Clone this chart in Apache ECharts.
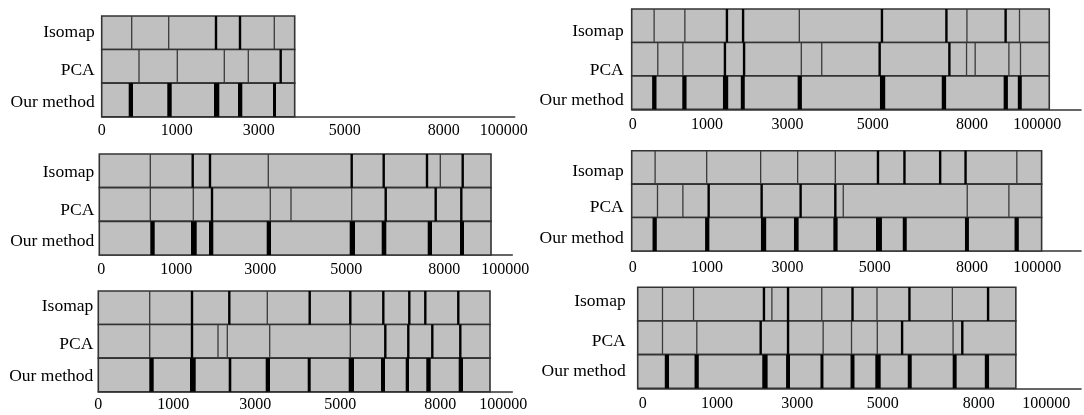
<!DOCTYPE html>
<html><head><meta charset="utf-8">
<script src="https://cdn.jsdelivr.net/npm/echarts@6/dist/echarts.min.js"></script>
<style>html,body{margin:0;padding:0;background:#fff}#c{width:1084px;height:415px}</style>
</head><body><div id="c"></div>
<script>
// ---------------- DATA ----------------
const rowNames = ['Isomap', 'PCA', 'Our method'];
const tickLabels = ['0', '1000', '3000', '5000', '8000', '100000'];

// Panel A (top-left)
const aLength = 193;
const aTicks = [0, 75, 157, 243, 342, 402];
const aIsoThin = [30, 67, 172.6];
const aIsoBold = [114.3, 138.3];
const aPcaThin = [37.3, 75.6, 122.6, 146.6];
const aPcaBold = [179];
const aOur = [[27, 31.3], [65.6, 70], [112.3, 117.6], [136.3, 140.6], [171.3, 174.3]];

// Panel B (top-right)
const bLength = 421;
const bTicks = [1, 76, 157, 243, 343, 409];
const bIsoThin = [22.6, 53.6, 169, 338, 391];
const bIsoBold = [96, 112.3, 252.3, 317.3, 377];
const bPcaThin = [26.3, 51.6, 171, 191.6, 337.6, 346.3, 380.3, 392];
const bPcaBold = [94, 113.3, 250, 320.3];
const bOur = [[20.6, 25], [51, 55.3], [92, 97.3], [110, 114], [167.3, 171.6], [250.3, 255.6], [312.6, 317], [375, 379.3], [389.3, 393.3]];

// Panel C (middle-left)
const cLength = 391.7;
const cTicks = [2, 77, 161, 247, 345, 406];
const cIsoThin = [51, 169, 341];
const cIsoBold = [93.4, 110.7, 252.4, 284.4, 327.7, 363.4];
const cPcaThin = [51, 94, 171, 191.7, 252.4];
const cPcaBold = [112.7, 286.4, 336.4, 362];
const cOur = [[51, 55.4], [91.7, 97.4], [109.7, 114], [167.4, 171.7], [250.4, 255.7], [282.4, 287], [328.4, 332.7], [360.7, 364.7]];

// Panel D (middle-right)
const dLength = 413.3;
const dTicks = [1, 76, 157, 245, 343, 409];
const dIsoThin = [23.6, 75.6, 130, 167.3, 205.3, 388.3];
const dIsoBold = [248.3, 275, 311, 336.6];
const dPcaThin = [26, 51.6, 213.3, 338.3, 380.3];
const dPcaBold = [77.6, 131, 170.3, 205.3];
const dOur = [[21, 25.3], [74, 78.3], [130.3, 135.6], [163.6, 168.3], [203.3, 207.6], [246.3, 252.3], [273.3, 277.3], [336, 340], [386, 390.3]];

// Panel E (bottom-left)
const eLength = 391.7;
const eTicks = [0, 75, 157, 242, 342, 405];
const eIsoThin = [51.4, 169];
const eIsoBold = [93.7, 131, 211.4, 252, 285, 311, 327, 360];
const ePcaThin = [51.4, 119.7, 129, 171.4, 252];
const ePcaBold = [93.7, 287, 310, 334, 362];
const eOur = [[51, 55.4], [91.7, 97.4], [130.4, 133], [167.4, 171.7], [209.4, 212.4], [250.4, 255.7], [282.7, 286.7], [307.4, 310.7], [328, 332.4], [360.4, 364.7]];

// Panel F (bottom-right)
const fLength = 381.3;
const fTicks = [5, 80, 161, 247, 344, 412];
const fIsoThin = [25, 56.3, 135.3, 185.6, 241.3, 317.3];
const fIsoBold = [127.3, 151.6, 216.6, 274, 353.3];
const fPcaThin = [25, 59.6, 187, 215.6, 241.6, 318];
const fPcaBold = [124, 151.6, 266.6, 327.3];
const fOur = [[27.3, 31.6], [57.3, 61.6], [125.6, 131], [149.6, 153.6], [184.3, 187.3], [214.6, 218.6], [239.6, 245], [272.3, 276.3], [317.6, 321.6], [350, 354.3]];

// ---------------- LAYOUT ----------------
const panels = [
  {len: aLength, ticks: aTicks, isoT: aIsoThin, isoB: aIsoBold, pcaT: aPcaThin, pcaB: aPcaBold, our: aOur,
   left: 101.7, top: 16, height: 100.7, axisLen: 413, tickMargin: 6, yMargin: 7, yShift: [0, 4.5, 2]},
  {len: bLength, ticks: bTicks, isoT: bIsoThin, isoB: bIsoBold, pcaT: bPcaThin, pcaB: bPcaBold, our: bOur,
   left: 631.7, top: 9, height: 100.3, axisLen: 453, tickMargin: 7, yMargin: 8, yShift: [6, 11, 8]},
  {len: cLength, ticks: cTicks, isoT: cIsoThin, isoB: cIsoBold, pcaT: cPcaThin, pcaB: cPcaBold, our: cOur,
   left: 99.3, top: 154, height: 101, axisLen: 413, tickMargin: 7, yMargin: 5, yShift: [1.7, 6, 3]},
  {len: dLength, ticks: dTicks, isoT: dIsoThin, isoB: dIsoBold, pcaT: dPcaThin, pcaB: dPcaBold, our: dOur,
   left: 631.7, top: 150.7, height: 100.3, axisLen: 453, tickMargin: 9, yMargin: 8, yShift: [4, 7, 4.5]},
  {len: eLength, ticks: eTicks, isoT: eIsoThin, isoB: eIsoBold, pcaT: ePcaThin, pcaB: ePcaBold, our: eOur,
   left: 98.3, top: 291, height: 100.7, axisLen: 414, tickMargin: 5, yMargin: 5, yShift: [-1.5, 3.5, 1.5]},
  {len: fLength, ticks: fTicks, isoT: fIsoThin, isoB: fIsoBold, pcaT: fPcaThin, pcaB: fPcaBold, our: fOur,
   left: 637.7, top: 287.3, height: 101, axisLen: 447, tickMargin: 7, yMargin: 12, yShift: [-2.3, 3.5, 0]}
];

const SERIF = "'Liberation Serif', 'Times New Roman', serif";
const Y_FONT = 17.5;

function renderItem(params, api) {
  const a = api.value(0), b = api.value(1), r = api.value(2), k = api.value(3);
  const h = api.size([0, 1])[1];
  const p1 = api.coord([a, r]);
  const p2 = api.coord([b, r]);
  const y0 = p1[1] - h / 2;
  if (k === 0) {
    return {type: 'rect', shape: {x: p1[0], y: y0, width: p2[0] - p1[0], height: h},
      style: {fill: '#c0c0c0', stroke: '#333', lineWidth: 1.6}};
  }
  if (k === 1 || k === 2) {
    return {type: 'line', shape: {x1: p1[0], y1: y0, x2: p1[0], y2: y0 + h},
      style: {stroke: k === 2 ? '#000' : '#3a3a3a', lineWidth: k === 2 ? 2.4 : 1.3}};
  }
  return {type: 'rect', shape: {x: p1[0], y: y0, width: p2[0] - p1[0], height: h},
    style: {fill: '#000'}};
}

const grid = [], xAxis = [], yAxis = [], series = [];
panels.forEach((p, i) => {
  grid.push({left: p.left, top: p.top, width: p.axisLen, height: p.height});
  const ticks = p.ticks;
  xAxis.push({
    type: 'value', gridIndex: i, min: 0, max: p.axisLen, interval: 1,
    axisLine: {show: true, lineStyle: {color: '#333', width: 1.6}},
    axisTick: {show: false}, splitLine: {show: false},
    axisLabel: {
      show: true, margin: p.tickMargin, color: '#000', fontFamily: SERIF, fontSize: 16,
      showMinLabel: true, showMaxLabel: true,
      formatter: v => { const j = ticks.indexOf(Math.round(v)); return j >= 0 && Math.abs(v - ticks[j]) < 1e-6 ? tickLabels[j] : ''; }
    }
  });
  const rich = {};
  p.yShift.forEach((s, j) => {
    rich['r' + j] = {fontFamily: SERIF, fontSize: Y_FONT, color: '#000',
      padding: s >= 0 ? [2 * s, 0, 0, 0] : [0, 0, -2 * s, 0]};
  });
  yAxis.push({
    type: 'category', gridIndex: i, data: rowNames, inverse: true,
    axisLine: {show: false}, axisTick: {show: false}, splitLine: {show: false},
    axisLabel: {margin: p.yMargin, color: '#000', fontFamily: SERIF, fontSize: Y_FONT,
      formatter: (v, idx) => '{r' + rowNames.indexOf(v) + '|' + v + '}', rich: rich}
  });
  const data = [];
  for (let r = 0; r < 3; r++) data.push([0, p.len, r, 0]);
  p.isoT.forEach(v => data.push([v, v, 0, 1]));
  p.isoB.forEach(v => data.push([v, v, 0, 2]));
  p.pcaT.forEach(v => data.push([v, v, 1, 1]));
  p.pcaB.forEach(v => data.push([v, v, 1, 2]));
  p.our.forEach(m => data.push([m[0], m[1], 2, 3]));
  series.push({
    type: 'custom', xAxisIndex: i, yAxisIndex: i, renderItem: renderItem,
    encode: {x: [0, 1], y: 2}, data: data, silent: true, clip: false
  });
});

const chart = echarts.init(document.getElementById('c'), null, {renderer: 'canvas'});
chart.setOption({animation: false, backgroundColor: '#fff', grid, xAxis, yAxis, series});
</script>
</body></html>
